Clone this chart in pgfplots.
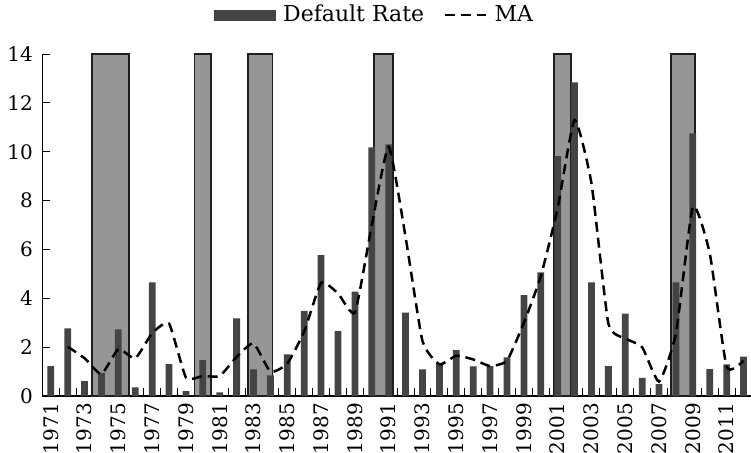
\documentclass[border=0pt]{standalone}
\usepackage{fontspec}
\setmainfont{DejaVu Serif}
\usepackage{pgfplots}
\pgfplotsset{compat=1.18}
\definecolor{barcol}{RGB}{68,68,68}
\definecolor{reccol}{RGB}{150,150,150}
\definecolor{recedge}{RGB}{30,30,30}
\begin{document}
\begin{tikzpicture}
\useasboundingbox (-21.15pt,-28pt) rectangle (354.3pt,198pt);
\begin{axis}[
  scale only axis, width=354.8pt, height=171pt,
  xmin=1970.5, xmax=2012.5, ymin=0, ymax=14,
  axis x line*=bottom, axis y line*=left,
  axis line style={line width=0.6pt, black},
  clip=false,
  xtick={1971,1973,...,2011},
  minor xtick={1970.5,1971.5,...,2012.5},
  ytick={0,2,...,14},
  tick align=inside,
  major tick length=3.8pt, minor tick length=3.8pt,
  every major x tick/.style={draw=none},
  every tick/.style={black, line width=0.5pt},
  /pgf/number format/.cd, 1000 sep={}, assume math mode=true, /pgfplots/.cd,
  tick label style={font=\fontsize{10}{12}\selectfont},
  xticklabel style={rotate=90, anchor=east},
  yticklabel style={xshift=-1.2pt},
  legend style={at={(0.4696,1.114)}, anchor=center, draw=none, fill=none,
    legend columns=-1, font=\fontsize{11}{13}\selectfont,
    /tikz/every odd column/.append style={column sep=1.5pt},
    /tikz/every even column/.append style={column sep=8pt}},
]
% recessions
\addplot[fill=reccol, draw=recedge, line width=0.85pt, forget plot] coordinates {(1973.43,0) (1973.43,14) (1975.63,14) (1975.63,0)} \closedcycle;
\addplot[fill=reccol, draw=recedge, line width=0.85pt, forget plot] coordinates {(1979.5,0) (1979.5,14) (1980.5,14) (1980.5,0)} \closedcycle;
\addplot[fill=reccol, draw=recedge, line width=0.85pt, forget plot] coordinates {(1982.69,0) (1982.69,14) (1984.13,14) (1984.13,0)} \closedcycle;
\addplot[fill=reccol, draw=recedge, line width=0.85pt, forget plot] coordinates {(1990.15,0) (1990.15,14) (1991.24,14) (1991.24,0)} \closedcycle;
\addplot[fill=reccol, draw=recedge, line width=0.85pt, forget plot] coordinates {(2000.8,0) (2000.8,14) (2001.77,14) (2001.77,0)} \closedcycle;
\addplot[fill=reccol, draw=recedge, line width=0.85pt, forget plot] coordinates {(2007.69,0) (2007.69,14) (2009.14,14) (2009.14,0)} \closedcycle;
% default rate
\addplot[ybar, bar width=0.4, bar shift=0pt, fill=barcol, draw=none,
  legend image code/.code={\fill[barcol] (0pt,-2.75pt) rectangle (31pt,2.75pt);}]
coordinates {
(1971,1.23) (1972,2.77) (1973,0.61) (1974,0.95) (1975,2.73) (1976,0.36)
(1977,4.65) (1978,1.31) (1979,0.2) (1980,1.47) (1981,0.15) (1982,3.18)
(1983,1.09) (1984,0.85) (1985,1.71) (1986,3.49) (1987,5.77) (1988,2.66)
(1989,4.27) (1990,10.18) (1991,10.3) (1992,3.41) (1993,1.09) (1994,1.34)
(1995,1.88) (1996,1.21) (1997,1.23) (1998,1.58) (1999,4.13) (2000,5.06)
(2001,9.82) (2002,12.84) (2003,4.65) (2004,1.23) (2005,3.37) (2006,0.74)
(2007,0.49) (2008,4.65) (2009,10.75) (2010,1.1) (2011,1.3) (2012,1.61)
};
\addlegendentry{Default Rate}
% moving average
\addplot[black, line width=1.25pt, dash pattern=on 5pt off 3pt, smooth, tension=0.3,
  legend image code/.code={\draw[black, line width=1.25pt, dash pattern=on 5pt off 2.8pt] (0pt,0pt) -- (20.5pt,0pt);}]
coordinates {
(1972,2.02) (1973,1.55) (1974,0.9) (1975,1.92) (1976,1.54) (1977,2.57)
(1978,2.97) (1979,0.76) (1980,0.82) (1981,0.82) (1982,1.6) (1983,2.16)
(1984,1.0) (1985,1.33) (1986,2.65) (1987,4.63) (1988,4.2) (1989,3.42)
(1990,7.0) (1991,10.2) (1992,6.5) (1993,2.25) (1994,1.3) (1995,1.65)
(1996,1.5) (1997,1.23) (1998,1.45) (1999,3.0) (2000,4.9) (2001,7.7)
(2002,11.3) (2003,8.7) (2004,2.97) (2005,2.36) (2006,2.0) (2007,0.59)
(2008,2.57) (2009,7.75) (2010,5.84) (2011,1.2) (2012,1.45)
};
\addlegendentry{MA}
\end{axis}
\end{tikzpicture}
\end{document}
